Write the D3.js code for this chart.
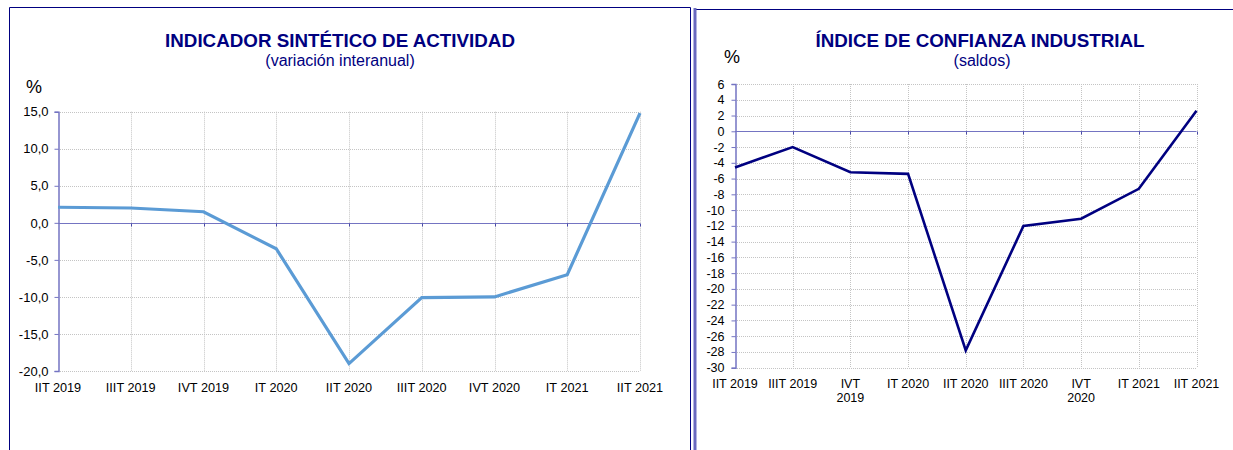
<!DOCTYPE html>
<html>
<head>
<meta charset="utf-8">
<script src="https://cdn.jsdelivr.net/npm/d3@7"></script>
<style>
  body { margin: 0; background: #fff; }
  text { font-family: Arial, "Liberation Sans", sans-serif; }
</style>
</head>
<body>
<script>
var width = 1233,
  height = 450;

// Left chart data
var actQuarters = ["IIT 2019", "IIIT 2019", "IVT 2019", "IT 2020", "IIT 2020", "IIIT 2020", "IVT 2020", "IT 2021", "IIT 2021"];
var actValues = [2.1, 2.0, 1.5, -3.5, -19.0, -10.1, -10.0, -7.0, 14.8];
var actTicks = [15, 10, 5, 0, -5, -10, -15, -20];

// Right chart data
var confQuarters = [["IIT 2019"], ["IIIT 2019"], ["IVT", "2019"], ["IT 2020"], ["IIT 2020"], ["IIIT 2020"], ["IVT", "2020"], ["IT 2021"], ["IIT 2021"]];
var confValues = [-4.6, -2.0, -5.2, -5.4, -27.8, -12.0, -11.1, -7.3, 2.6];
var confTicks = d3.range(6, -31, -2);

var navy = "#000080",
  axisColor = "#7474c2",
  gridColor = "#c4c4c4";

var locale = d3.formatLocale({ decimal: ",", thousands: ".", grouping: [3], currency: ["", "€"], minus: "-" });
var fmt1 = locale.format(".1f"),
  fmt0 = locale.format("d");

var svg = d3.select("body").append("svg")
  .attr("width", width)
  .attr("height", height);

// panel frames
svg.append("path")
  .attr("d", "M9.5,460V7.5H690.5V460")
  .attr("fill", "none")
  .attr("stroke", navy)
  .attr("stroke-width", 1);

svg.append("line")
  .attr("x1", 694.5).attr("x2", 1233).attr("y1", 9.5).attr("y2", 9.5)
  .attr("stroke", navy);

svg.append("line")
  .attr("x1", 695).attr("x2", 695).attr("y1", 8).attr("y2", 450)
  .attr("stroke", "#6a6abf")
  .attr("stroke-width", 3);

function drawChart(opt) {
  var g = svg.append("g");

  var x = d3.scalePoint()
    .domain(d3.range(opt.labels.length))
    .range([opt.x0, opt.x1]);

  var y = d3.scaleLinear()
    .domain([opt.ymin, opt.ymax])
    .range([opt.y1, opt.y0]);

  // horizontal grid
  g.selectAll(".hgrid")
    .data(opt.ticks)
    .enter().append("line")
    .attr("x1", opt.x0).attr("x2", opt.x1)
    .attr("y1", function (d) { return Math.round(y(d)) + 0.5; })
    .attr("y2", function (d) { return Math.round(y(d)) + 0.5; })
    .attr("stroke", gridColor)
    .attr("stroke-dasharray", "1,1");

  // vertical grid
  g.selectAll(".vgrid")
    .data(d3.range(1, opt.labels.length))
    .enter().append("line")
    .attr("x1", function (d) { return Math.round(x(d)) + 0.5; })
    .attr("x2", function (d) { return Math.round(x(d)) + 0.5; })
    .attr("y1", opt.y0).attr("y2", opt.y1)
    .attr("stroke", gridColor)
    .attr("stroke-dasharray", "1,1");

  // y axis
  var yAxis = d3.axisLeft(y)
    .tickValues(opt.ticks)
    .tickSize(4)
    .tickPadding(opt.tickPad)
    .tickFormat(opt.format);

  var ya = g.append("g")
    .attr("transform", "translate(" + (Math.round(opt.x0) + 0.5) + ",0)")
    .call(yAxis);
  ya.select(".domain").attr("stroke", axisColor).attr("stroke-width", 1.5);
  ya.selectAll(".tick line").attr("stroke", axisColor);
  ya.selectAll(".tick text")
    .attr("fill", "#000")
    .style("font-size", opt.yFont + "px")
    .style("font-family", "Arial, 'Liberation Sans', sans-serif");

  // zero line with category ticks
  var z = Math.round(y(0)) + 0.5;
  g.append("line")
    .attr("x1", opt.x0).attr("x2", opt.x1)
    .attr("y1", z).attr("y2", z)
    .attr("stroke", axisColor)
    .attr("stroke-width", 1.2);
  g.selectAll(".ztick")
    .data(d3.range(1, opt.labels.length))
    .enter().append("line")
    .attr("x1", function (d) { return Math.round(x(d)) + 0.5; })
    .attr("x2", function (d) { return Math.round(x(d)) + 0.5; })
    .attr("y1", z).attr("y2", z + 3)
    .attr("stroke", "#4a4aa8");

  // category labels
  var lab = g.selectAll(".xlab")
    .data(opt.labels)
    .enter().append("text")
    .attr("x", function (d, i) { return x(i); })
    .attr("y", opt.labelY)
    .attr("text-anchor", "middle")
    .style("font-size", opt.xFont + "px")
    .attr("fill", "#000");
  lab.each(function (d) {
    var t = d3.select(this);
    var lines = Array.isArray(d) ? d : [d];
    lines.forEach(function (s, k) {
      t.append("tspan")
        .attr("x", t.attr("x"))
        .attr("dy", k === 0 ? 0 : 14)
        .text(s);
    });
  });

  // series line
  var line = d3.line()
    .x(function (d, i) { return x(i); })
    .y(function (d) { return y(d); });

  g.append("path")
    .datum(opt.values)
    .attr("d", line)
    .attr("fill", "none")
    .attr("stroke", opt.color)
    .attr("stroke-width", opt.lineWidth)
    .attr("stroke-linejoin", "miter");

  // titles
  g.append("text")
    .attr("x", opt.titleX).attr("y", 47)
    .attr("text-anchor", "middle")
    .attr("fill", navy)
    .style("font-size", "18.8px")
    .style("font-weight", "bold")
    .text(opt.title);

  g.append("text")
    .attr("x", opt.subX).attr("y", 66)
    .attr("text-anchor", "middle")
    .attr("fill", navy)
    .style("font-size", "16px")
    .text(opt.subtitle);

  g.append("text")
    .attr("x", opt.pctX).attr("y", opt.pctY)
    .attr("fill", "#000")
    .style("font-size", "18px")
    .text("%");
}

drawChart({
  labels: actQuarters,
  values: actValues,
  ticks: actTicks,
  ymin: -20, ymax: 15,
  x0: 58, x1: 640,
  y0: 111.7, y1: 371,
  format: fmt1,
  tickPad: 6,
  yFont: 13,
  xFont: 12.7,
  labelY: 392,
  color: "#5b9bd5",
  lineWidth: 3.2,
  title: "INDICADOR SINTÉTICO DE ACTIVIDAD",
  subtitle: "(variación interanual)",
  titleX: 340, subX: 340,
  pctX: 26, pctY: 93
});

drawChart({
  labels: confQuarters,
  values: confValues,
  ticks: confTicks,
  ymin: -30, ymax: 6,
  x0: 735, x1: 1196.5,
  y0: 84, y1: 367.7,
  format: fmt0,
  tickPad: 7,
  yFont: 12.5,
  xFont: 12.5,
  labelY: 388,
  color: navy,
  lineWidth: 2.6,
  title: "ÍNDICE DE CONFIANZA INDUSTRIAL",
  subtitle: "(saldos)",
  titleX: 980, subX: 982,
  pctX: 724, pctY: 63
});
</script>
</body>
</html>
